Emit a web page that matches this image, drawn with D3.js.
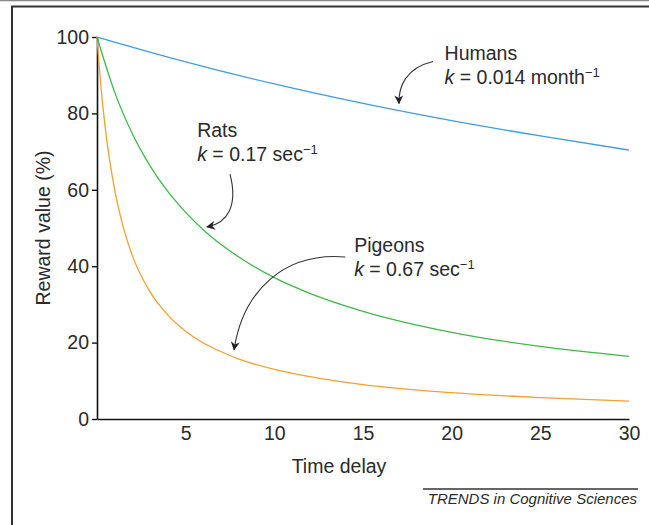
<!DOCTYPE html>
<html>
<head>
<meta charset="utf-8">
<script src="https://cdn.jsdelivr.net/npm/d3@7"></script>
<style>
  html, body { margin: 0; padding: 0; background: #fff; }
  svg { display: block; font-family: "Liberation Sans", Arial, sans-serif; }
</style>
</head>
<body>
<div id="chart"></div>
<script>
// time delay points (same units for each species, as in the figure)
var humanT = [0, 5, 10, 15, 20, 25, 30];
var humanV = [100, 93.5, 87.7, 82.6, 78.1, 74.1, 70.4];

var ratT = [0, 1, 2, 3, 4, 5, 6, 8, 10, 12, 15, 20, 25, 30];
var ratV = [100, 85.5, 74.6, 66.2, 59.5, 54.1, 49.5, 42.4, 37.0, 32.9, 28.2, 22.7, 19.0, 16.4];

var pigeonT = [0, 0.25, 0.5, 1, 1.5, 2, 3, 4, 5, 6, 7, 8, 10, 12, 15, 20, 25, 30];
var pigeonV = [100, 85.7, 74.9, 59.9, 49.9, 42.7, 33.2, 27.2, 23.0, 19.9, 17.6, 15.7, 13.0, 11.1, 9.0, 6.9, 5.6, 4.7];

var xTicks = [5, 10, 15, 20, 25, 30];
var yTicks = [0, 20, 40, 60, 80, 100];

var width = 649, height = 525;
var fs = 19.5;
var ink = "#2a2a2a";
var svg = d3.select("#chart").append("svg")
    .attr("width", width)
    .attr("height", height);

// frame
svg.append("line").attr("x1", 0).attr("x2", width).attr("y1", 0.5).attr("y2", 0.5)
    .attr("stroke", "#888").attr("stroke-width", 1.5);
svg.append("line").attr("x1", 11).attr("x2", width).attr("y1", 6.5).attr("y2", 6.5)
    .attr("stroke", "#333").attr("stroke-width", 2);
svg.append("line").attr("x1", 12).attr("x2", 12).attr("y1", 6).attr("y2", height)
    .attr("stroke", "#333").attr("stroke-width", 2);

var x = d3.scaleLinear().domain([0, 30]).range([97, 629]);
var y = d3.scaleLinear().domain([0, 100]).range([419, 37]);

// y axis
var yAxis = svg.append("g")
    .attr("transform", "translate(97,0)")
    .call(d3.axisLeft(y).tickValues(yTicks).tickSize(5).tickPadding(3).tickSizeOuter(0));
yAxis.select(".domain").attr("stroke", "#111").attr("stroke-width", 1.6);
yAxis.selectAll(".tick line").attr("stroke", "#111").attr("stroke-width", 1.4);
yAxis.selectAll("text").attr("font-size", fs).attr("fill", ink)
    .attr("font-family", "Liberation Sans, Arial, sans-serif");

// x axis
var xAxis = svg.append("g")
    .attr("transform", "translate(0,419)")
    .call(d3.axisBottom(x).tickValues(xTicks).tickSize(0).tickPadding(7).tickSizeOuter(0));
xAxis.select(".domain").attr("stroke", "#111").attr("stroke-width", 1.6);
xAxis.selectAll("text").attr("font-size", fs).attr("fill", ink)
    .attr("font-family", "Liberation Sans, Arial, sans-serif");

// axis titles
svg.append("text")
    .attr("x", 339).attr("y", 473)
    .attr("text-anchor", "middle")
    .attr("font-size", fs).attr("fill", ink)
    .text("Time delay");
svg.append("text")
    .attr("transform", "translate(50,228) rotate(-90)")
    .attr("text-anchor", "middle")
    .attr("font-size", fs).attr("fill", ink)
    .text("Reward value (%)");

// curves
var line = d3.line()
    .x(function (d) { return x(d[0]); })
    .y(function (d) { return y(d[1]); })
    .curve(d3.curveMonotoneX);

var series = [
    { t: pigeonT, v: pigeonV, color: "#f5a030" },
    { t: ratT, v: ratV, color: "#3cbb48" },
    { t: humanT, v: humanV, color: "#3d9ee0" }
];
series.forEach(function (s) {
    svg.append("path")
        .datum(s.t.map(function (t, i) { return [t, s.v[i]]; }))
        .attr("d", line)
        .attr("fill", "none")
        .attr("stroke", s.color)
        .attr("stroke-width", 1.3);
});

// arrowheads
svg.append("defs").append("marker")
    .attr("id", "head")
    .attr("viewBox", "0 0 10 10")
    .attr("refX", 9).attr("refY", 5)
    .attr("markerWidth", 9).attr("markerHeight", 9)
    .attr("markerUnits", "userSpaceOnUse")
    .attr("orient", "auto")
    .append("path")
    .attr("d", "M0,0 L10,5 L0,10 L3,5 Z")
    .attr("fill", "#222");

// annotation arrows, control points in data units
var arrows = [
    [[18.95, 93.6], [17.4, 91.9], [17.0, 87], [17.03, 82.6]],
    [[7.5, 64.1], [7.95, 56], [7.4, 51.3], [6.2, 50.3]],
    [[14.0, 42.4], [10.6, 43.7], [8.23, 33.8], [7.73, 18.1]]
];
arrows.forEach(function (a) {
    var p = a.map(function (d) { return [x(d[0]), y(d[1])]; });
    svg.append("path")
        .attr("d", "M" + p[0] + " C" + p[1] + " " + p[2] + " " + p[3])
        .attr("fill", "none")
        .attr("stroke", "#333")
        .attr("stroke-width", 1.1)
        .attr("marker-end", "url(#head)");
});

// labels
function label(tx, vy, name, kval, unit) {
    var px = x(tx), py = y(vy);
    svg.append("text").attr("x", px).attr("y", py)
        .attr("font-size", fs).attr("fill", ink).text(name);
    var t = svg.append("text").attr("x", px).attr("y", py + 24)
        .attr("font-size", fs).attr("fill", ink);
    t.append("tspan").attr("font-style", "italic").text("k");
    t.append("tspan").text(" = " + kval + " " + unit);
    t.append("tspan").attr("dy", -7).attr("font-size", 13).text("\u22121");
}
label(19.6, 94, "Humans", "0.014", "month");
label(5.65, 73.8, "Rats", "0.17", "sec");
label(14.5, 43.7, "Pigeons", "0.67", "sec");

// source
svg.append("line").attr("x1", 423).attr("x2", 638).attr("y1", 489).attr("y2", 489)
    .attr("stroke", "#333").attr("stroke-width", 1.5);
svg.append("text")
    .attr("x", 637).attr("y", 504)
    .attr("text-anchor", "end")
    .attr("font-size", 15).attr("font-style", "italic").attr("fill", ink)
    .text("TRENDS in Cognitive Sciences");
</script>
</body>
</html>
